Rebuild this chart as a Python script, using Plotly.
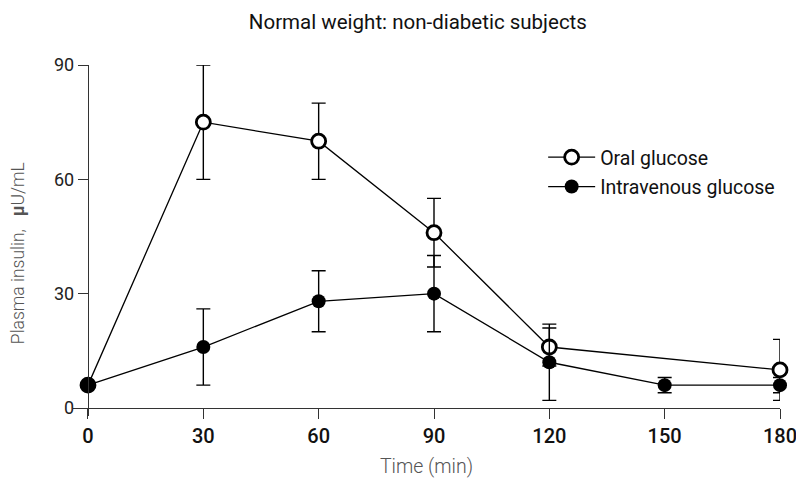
import plotly.graph_objects as go

time_oral = [0, 30, 60, 90, 120, 180]
insulin_oral = [6, 75, 70, 46, 16, 10]
err_oral = [0, 15, 10, 9, 5, 8]

time_iv = [0, 30, 60, 90, 120, 150, 180]
insulin_iv = [6, 16, 28, 30, 12, 6, 6]
err_iv = [0, 10, 8, 10, 10, 2, 2]

x_ticks = [0, 30, 60, 90, 120, 150, 180]
y_ticks = [0, 30, 60, 90]

xr = [-3.9, 180]
yr = [-2.1, 90]

fig = go.Figure()
fig.add_trace(go.Scatter(
    x=time_oral, y=insulin_oral, name="Oral glucose", mode="lines+markers",
    legendgroup="a",
    line=dict(color="black", width=1.3),
    marker=dict(symbol="circle", size=14, color="white", line=dict(color="black", width=2.8)),
    error_y=dict(type="data", array=err_oral, visible=True, color="black", thickness=1.4, width=7),
    cliponaxis=False,
))
fig.add_trace(go.Scatter(
    x=time_iv, y=insulin_iv, name="Intravenous glucose", mode="lines+markers",
    legendgroup="b",
    line=dict(color="black", width=1.3),
    marker=dict(symbol="circle", size=14, color="black", line=dict(color="black", width=0)),
    error_y=dict(type="data", array=err_iv, visible=True, color="black", thickness=1.4, width=7),
    cliponaxis=False,
))

xpos = (0 - xr[0]) / (xr[1] - xr[0])
ypos = (0 - yr[0]) / (yr[1] - yr[0])

fig.update_layout(
    width=796, height=478,
    margin=dict(l=73, r=16, t=65, b=62, autoexpand=False),
    paper_bgcolor="white", plot_bgcolor="white",
    hovermode=False,
    font=dict(family="Roboto", color="#222"),
    title=dict(text="Normal weight: non-diabetic subjects", x=0.525, xref="container", xanchor="center",
               y=0.954, yref="container", yanchor="middle", font=dict(size=20.5, color="#111")),
    showlegend=True,
    legend=dict(x=0.665, y=0.792, xanchor="left", yanchor="top", bgcolor="rgba(0,0,0,0)",
                font=dict(size=19.5, color="#111"), traceorder="grouped", tracegroupgap=1,
                itemwidth=47),
    xaxis=dict(range=xr, tickvals=x_ticks, showgrid=False, zeroline=False,
               showline=True, linecolor="#333", linewidth=1.3,
               ticks="outside", ticklen=10, tickwidth=1.3, tickcolor="#333",
               anchor="free", position=ypos, automargin=False, ticklabeloverflow="allow",
               tickfont=dict(size=20, color="#111", family="Roboto", weight=500),
               title=dict(text="Time (min)", font=dict(size=19.5, color="#555", weight=300), standoff=13)),
    yaxis=dict(range=yr, tickvals=y_ticks, showgrid=False, zeroline=False,
               showline=True, linecolor="#333", linewidth=1.3,
               ticks="outside", ticklen=10, tickwidth=1.3, tickcolor="#333",
               anchor="free", position=xpos, automargin=False, ticklabeloverflow="allow",
               tickfont=dict(size=18, color="#222")),
    annotations=[dict(text="Plasma insulin,&nbsp;&nbsp;&nbsp;<b>μ</b>U/mL", textangle=-90,
                      xref="paper", yref="paper", x=-0.0778, y=0.464,
                      xanchor="center", yanchor="middle", showarrow=False,
                      font=dict(size=17.5, color="#555", weight=300))],
)

fig.write_html("out.html", config={"displayModeBar": False},
               post_script="document.body.style.margin='0';")
